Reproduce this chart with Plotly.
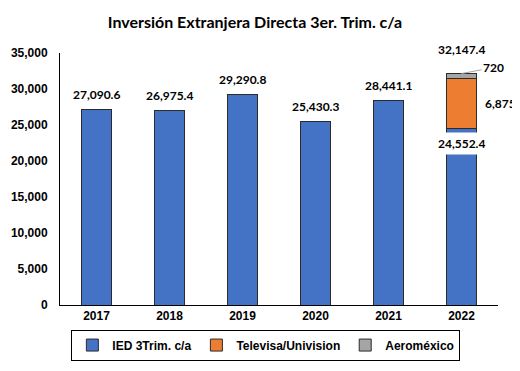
import plotly.graph_objects as go

years = ["2017", "2018", "2019", "2020", "2021", "2022"]
ied = [27090.6, 26975.4, 29290.8, 25430.3, 28441.1, 24552.4]
televisa = [0, 0, 0, 0, 0, 6875]
aeromexico = [0, 0, 0, 0, 0, 720]
totals = [27090.6, 26975.4, 29290.8, 25430.3, 28441.1, 32147.4]
yticks = [0, 5000, 10000, 15000, 20000, 25000, 30000, 35000]

LBL = "Lato"
AX = "Liberation Sans"
line = dict(color="#2b2b2b", width=1)
lblfont = dict(family=LBL, size=12, color="black", weight="bold")

fig = go.Figure()
fig.add_bar(x=years, y=ied, name="IED 3Trim. c/a", marker=dict(color="#4472C4", line=line), width=0.41)
fig.add_bar(x=years, y=televisa, name="Televisa/Univision", marker=dict(color="#ED7D31", line=line), width=0.41)
fig.add_bar(x=years, y=aeromexico, name="Aeroméxico", marker=dict(color="#A5A5A5", line=line), width=0.41)

ann = []
for i, t in enumerate(totals):
    if i < 5:
        ann.append(dict(x=i, y=t, text=f"{t:,.1f}", showarrow=False, yanchor="middle", yshift=15, font=lblfont))
    else:
        ann.append(dict(x=i, y=t, text=f"{t:,.1f}", showarrow=False, yanchor="middle", yshift=24, font=lblfont))
        ann.append(dict(x=i, y=ied[i], text=f"{ied[i]:,.1f}", showarrow=False, yanchor="middle", yshift=-15,
                        bgcolor="white", borderpad=3, font=lblfont))
        ann.append(dict(x=i, y=ied[i] + televisa[i] / 2, text=f"{televisa[i]:,}", showarrow=False,
                        xanchor="left", xshift=21, yanchor="middle", font=lblfont))
        ann.append(dict(x=i, y=t, text=f"{aeromexico[i]:,}", showarrow=True, arrowhead=0, arrowwidth=1,
                        arrowcolor="#A5A5A5", ax=32, ay=-6, standoff=0, xanchor="center", yanchor="middle",
                        font=lblfont))

fig.update_layout(
    barmode="stack",
    width=520, height=371,
    margin=dict(l=52, r=30, t=45, b=74, autoexpand=False),
    paper_bgcolor="white", plot_bgcolor="white",
    title=dict(text="Inversión Extranjera Directa 3er. Trim. c/a", x=0.475, xanchor="center", y=0.962, yanchor="middle",
               font=dict(family=LBL, size=16, color="black", weight="bold")),
    xaxis=dict(type="category", range=[-0.5, len(years) - 0.5], showline=True, linecolor="black", linewidth=1,
               ticks="", showgrid=False, automargin=False,
               tickfont=dict(family=AX, size=12, color="black", weight="bold")),
    yaxis=dict(range=[0, 35000], tickvals=yticks, tickformat=",", showline=True, linecolor="black", linewidth=1,
               showgrid=False, ticks="", zeroline=False, automargin=False, ticklabelstandoff=9,
               tickfont=dict(family=AX, size=12, color="black", weight="bold")),
    legend=dict(orientation="h", x=0.47, xanchor="center", y=-0.159, yanchor="middle",
                bordercolor="black", borderwidth=1, traceorder="normal", itemwidth=30,
                font=dict(family=AX, size=12, color="black", weight="bold")),
    annotations=ann,
    bargap=0.59,
)
fig.write_html("out.html")
